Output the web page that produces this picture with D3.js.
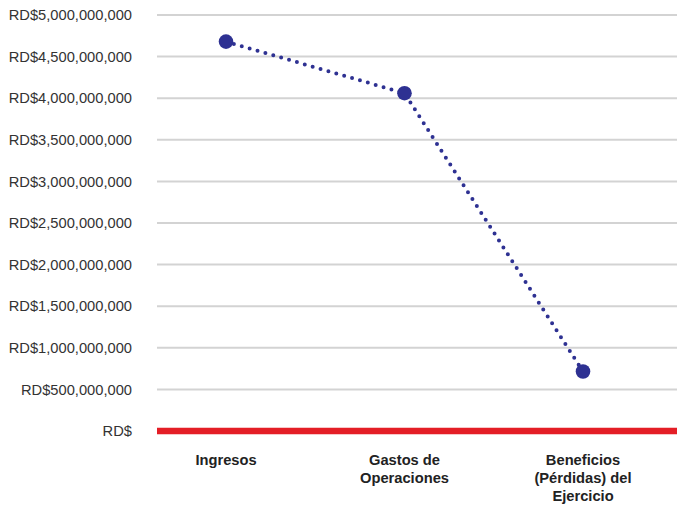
<!DOCTYPE html>
<html>
<head>
<meta charset="utf-8">
<script src="https://cdn.jsdelivr.net/npm/d3@7"></script>
<style>
  html, body { margin: 0; padding: 0; background: #fff; }
  svg { display: block; }
</style>
</head>
<body>
<svg id="chart" width="677" height="506"></svg>
<script>
// ---- data ----
const categories = ["Ingresos", "Gastos de Operaciones", "Beneficios (Pérdidas) del Ejercicio"];
const categoryLabelLines = [["Ingresos"], ["Gastos de", "Operaciones"], ["Beneficios", "(Pérdidas) del", "Ejercicio"]];
const values = [4680000000, 4060000000, 715000000];
const yTicks = [0, 500000000, 1000000000, 1500000000, 2000000000, 2500000000, 3000000000, 3500000000, 4000000000, 4500000000, 5000000000];
const yTickLabels = ["RD$", "RD$500,000,000", "RD$1,000,000,000", "RD$1,500,000,000", "RD$2,000,000,000", "RD$2,500,000,000", "RD$3,000,000,000", "RD$3,500,000,000", "RD$4,000,000,000", "RD$4,500,000,000", "RD$5,000,000,000"];

// ---- layout ----
const W = 677, H = 506;
const plotLeft = 157, plotRight = 677, plotTop = 15, plotBottom = 431;
const seriesColor = "#2E3192";
const svg = d3.select("#chart");

const y = d3.scaleLinear().domain([0, 5000000000]).range([plotBottom, plotTop]);
const x = d3.scalePoint().domain(categories).range([plotLeft + 69, plotLeft + 426]);

// gridlines
svg.append("g").selectAll("line")
  .data(yTicks.filter(d => d !== 0))
  .join("line")
  .attr("x1", plotLeft).attr("x2", plotRight)
  .attr("y1", d => y(d)).attr("y2", d => y(d))
  .attr("stroke", "#d3d3d3").attr("stroke-width", 2);

// zero line (red)
svg.append("line")
  .attr("x1", plotLeft).attr("x2", plotRight)
  .attr("y1", y(0)).attr("y2", y(0))
  .attr("stroke", "#E41E26").attr("stroke-width", 6.5);

// y axis labels
svg.append("g").selectAll("text")
  .data(yTicks)
  .join("text")
  .attr("x", plotLeft - 25)
  .attr("y", d => y(d))
  .attr("dy", "0.35em")
  .attr("text-anchor", "end")
  .attr("font-family", "'Liberation Sans', Arial, sans-serif")
  .attr("font-size", 14.7)
  .attr("fill", "#333")
  .text((d, i) => yTickLabels[i]);

// x labels
const xl = svg.append("g").selectAll("text")
  .data(categories)
  .join("text")
  .attr("x", d => x(d))
  .attr("y", 465)
  .attr("text-anchor", "middle")
  .attr("font-family", "'Liberation Sans', Arial, sans-serif")
  .attr("font-size", 14.7)
  .attr("font-weight", "bold")
  .attr("fill", "#222");
xl.each(function(d, i) {
  d3.select(this).selectAll("tspan")
    .data(categoryLabelLines[i])
    .join("tspan")
    .attr("x", x(d))
    .attr("dy", (t, j) => j === 0 ? 0 : 18)
    .text(t => t);
});

// dotted line
const pts = categories.map((c, i) => ({c, v: values[i]}));
svg.append("path")
  .datum(pts)
  .attr("d", d3.line().x(d => x(d.c)).y(d => y(d.v)))
  .attr("fill", "none")
  .attr("stroke", seriesColor)
  .attr("stroke-width", 4)
  .attr("stroke-linecap", "round")
  .attr("stroke-dasharray", "0 8.2");

// markers
svg.append("g").selectAll("circle")
  .data(pts)
  .join("circle")
  .attr("cx", d => x(d.c))
  .attr("cy", d => y(d.v))
  .attr("r", 7.3)
  .attr("fill", seriesColor);
</script>
</body>
</html>
